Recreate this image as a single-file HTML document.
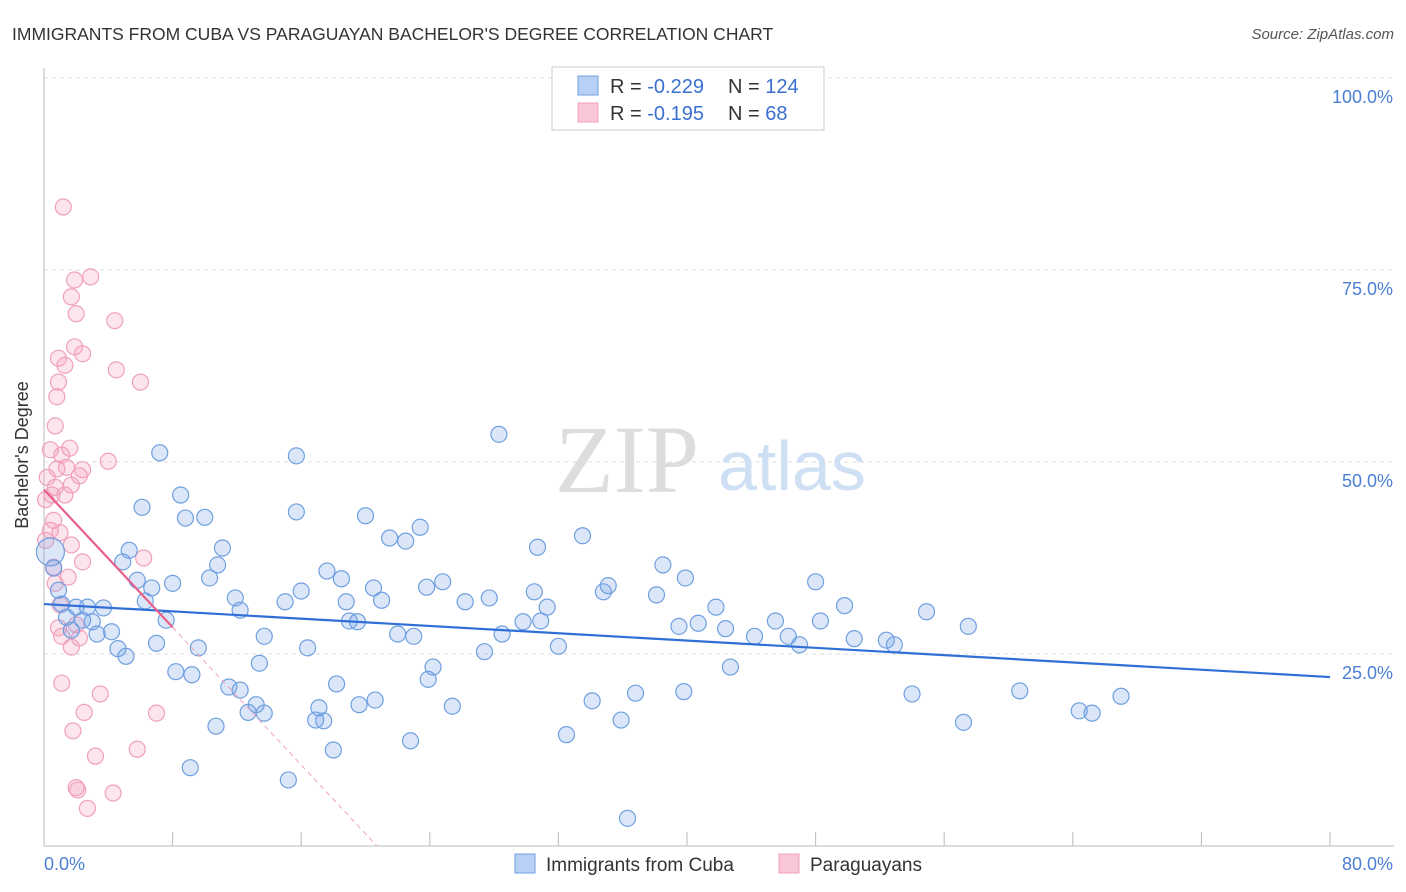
<!DOCTYPE html>
<html><head><meta charset="utf-8">
<style>
body{margin:0;background:#fff;font-family:"Liberation Sans",sans-serif;}
svg{display:block}
</style></head><body>
<svg width="1406" height="892" xmlns="http://www.w3.org/2000/svg">
<text x="12" y="40" font-size="17.5" fill="#333">IMMIGRANTS FROM CUBA VS PARAGUAYAN BACHELOR'S DEGREE CORRELATION CHART</text>
<text x="1394" y="39" font-size="15" fill="#555" font-style="italic" text-anchor="end">Source: ZipAtlas.com</text>
<g id="grid"></g>
<g id="axes"></g>
<text x="555" y="492" font-size="96" fill="#ddd" font-family="Liberation Serif,serif">ZIP</text>
<text x="718" y="490" font-size="70" fill="#cfe0f5">atlas</text>
<g id="pts"></g>
<g id="trend"></g>
<text x="28" y="455" font-size="18" fill="#333" text-anchor="middle" transform="rotate(-90 28 455)">Bachelor's Degree</text>
<g>
<rect x="552" y="67" width="272" height="63" fill="#fff" stroke="#ccc"/>
<rect x="578" y="76" width="20" height="19" fill="#b8d0f5" stroke="#6f9fe0"/>
<rect x="578" y="103" width="20" height="19" fill="#f9c6d5" stroke="#f0a0b8"/>
<text x="610" y="93" font-size="20" fill="#333">R = <tspan fill="#3a70d0">-0.229</tspan><tspan x="728">N = </tspan><tspan fill="#3a70d0">124</tspan></text>
<text x="610" y="120" font-size="20" fill="#333">R = <tspan fill="#3a70d0"> -0.195</tspan><tspan x="728">N = </tspan><tspan fill="#3a70d0"> 68</tspan></text>
</g>
<g>
<rect x="515" y="854" width="20" height="19" fill="#b8d0f5" stroke="#6f9fe0"/>
<text x="546" y="871" font-size="19" fill="#333">Immigrants from Cuba</text>
<rect x="779" y="854" width="20" height="19" fill="#f9c6d5" stroke="#f0a0b8"/>
<text x="810" y="871" font-size="19" fill="#333">Paraguayans</text>
</g>
</svg>
<script>
const yTicks=[25,50,75,100];
const yTickLabels=["25.0%","50.0%","75.0%","100.0%"];
const xTickCount=10;
const xEndLabels=["0.0%","80.0%"];
const cubaX=[7.2,6.1,8.5,8.8,10.0,11.1,10.8,10.3,5.3,4.9,5.8,8.0,6.7,6.3,7.6,4.2,3.3,3.7,2.7,2.0,1.4,2.4,3.0,1.7,0.9,0.6,1.1,4.6,5.1,7.0,9.6,8.2,9.2,11.5,12.2,11.9,12.2,13.7,13.4,13.2,12.7,13.7,10.7,9.1,15.2,15.7,15.7,15.0,16.0,16.4,17.6,18.5,18.8,19.0,19.5,20.0,20.5,21.0,18.2,17.1,16.9,17.4,19.6,20.6,18.0,21.5,22.5,23.4,22.0,23.0,23.8,24.8,24.2,23.9,25.4,22.8,26.2,27.7,28.5,27.4,28.3,29.8,30.5,30.9,31.3,30.7,32.0,33.5,34.8,35.1,34.1,32.5,35.9,36.3,38.1,38.5,39.9,36.8,39.8,39.5,40.7,41.8,42.4,42.7,44.2,45.5,46.3,47.0,48.0,48.3,49.8,50.4,52.4,52.9,54.9,54.0,57.5,57.2,60.7,64.4,65.2,67.0,0.4];
const cubaY=[51.2,44.1,45.7,42.7,42.8,38.8,36.6,34.9,38.5,37.0,34.6,34.2,33.6,31.9,29.4,27.9,27.6,31.0,31.1,31.1,29.8,29.4,29.2,28.1,33.3,36.2,31.5,25.7,24.7,26.4,25.8,22.7,22.3,20.7,20.3,32.3,30.7,27.3,23.8,18.4,17.4,17.3,15.6,10.2,8.6,50.8,43.5,31.8,33.2,25.8,35.8,34.8,31.8,29.3,29.2,43.0,33.6,32.0,21.1,18.0,16.4,16.3,18.4,19.0,12.5,40.1,39.7,41.5,27.6,27.3,33.7,34.4,23.3,21.7,18.2,13.7,31.8,32.3,27.6,25.3,53.6,29.2,33.1,29.3,31.1,38.9,26.0,40.4,33.1,33.9,18.9,14.5,16.4,3.6,32.7,36.6,34.9,19.9,20.1,28.6,29.0,31.1,28.3,23.3,27.3,29.3,27.3,26.2,34.4,29.3,31.3,27.0,26.8,26.2,30.5,19.8,28.6,16.1,20.2,17.6,17.3,19.5,38.3];
const parX=[1.2,1.9,2.9,1.7,2.0,4.4,1.9,2.4,0.9,4.5,1.3,6.0,0.9,0.8,0.7,1.6,0.4,1.1,1.4,2.4,2.2,4.0,0.8,0.2,1.7,0.7,0.5,1.3,0.1,0.6,0.4,1.0,0.1,1.7,6.2,2.4,0.6,1.5,0.7,1.0,2.0,0.9,2.2,1.1,1.7,1.1,3.5,2.5,7.0,1.8,5.8,3.2,2.0,2.1,4.3,2.7];
const parY=[83.2,73.7,74.1,71.5,69.3,68.4,65.0,64.1,63.5,62.0,62.6,60.4,60.4,58.5,54.7,51.8,51.6,50.9,49.3,49.0,48.2,50.1,49.1,48.0,47.0,46.7,45.7,45.7,45.1,42.4,41.1,40.8,39.8,39.2,37.5,37.0,36.3,35.0,34.2,31.4,28.8,28.4,27.1,27.3,25.9,21.2,19.8,17.4,17.3,15.0,12.6,11.7,7.6,7.3,6.9,4.9];
const cubaTrend=[31.5,22.0];
const parTrend=[46.4,-2.24];
const NS="http://www.w3.org/2000/svg";
const X=v=>44+v*16.075, Y=v=>846-v*7.68;
function mk(t,a,p){const e=document.createElementNS(NS,t);for(const k in a)e.setAttribute(k,a[k]);p.appendChild(e);return e;}
const grid=document.getElementById('grid'),axes=document.getElementById('axes'),pts=document.getElementById('pts'),tr=document.getElementById('trend');
yTicks.forEach((v,i)=>{
 const l=mk('line',{x1:44,x2:1394,y1:Y(v),y2:Y(v),stroke:'#ddd','stroke-dasharray':'4 4'},grid);
 
 
 const t=mk('text',{x:1393,y:Y(v)+25,'font-size':18,fill:'#4a7fd4','text-anchor':'end'},axes);
 t.textContent=yTickLabels[i];
 
 
});
const al=mk('line',{x1:44,x2:44,y1:68,y2:846,stroke:'#bbb'},axes);


const bl=mk('line',{x1:44,x2:1394,y1:846,y2:846,stroke:'#bbb'},axes);


for(let i=0;i<=xTickCount;i++){const v=i*80/xTickCount;
 const tk=mk('line',{x1:X(v),x2:X(v),y1:832,y2:846,stroke:'#bbb'},axes);
 
 }
const t0=mk('text',{x:44,y:870,'font-size':18,fill:'#4a7fd4'},axes);t0.textContent=xEndLabels[0];


const t1=mk('text',{x:1393,y:870,'font-size':18,fill:'#4a7fd4','text-anchor':'end'},axes);t1.textContent=xEndLabels[1];


parX.forEach((x,i)=>{const c=mk('circle',{cx:X(x),cy:Y(parY[i]),r:8,fill:'rgba(244,160,188,0.28)',stroke:'#f0a0bc','stroke-width':1.2},pts);
 
 });
cubaX.forEach((x,i)=>{const big=i===cubaX.length-1;const c=mk('circle',{cx:X(x),cy:Y(cubaY[i]),r:big?14:8,fill:'rgba(110,160,230,0.25)',stroke:'#6f9fe0','stroke-width':1.2},pts);
 
 });
const cl=mk('line',{x1:X(0),y1:Y(cubaTrend[0]),x2:X(80),y2:Y(cubaTrend[1]),stroke:'#2f6fd6','stroke-width':2.2},tr);


const pe=8, pz=-parTrend[0]/parTrend[1];
const pl=mk('line',{x1:X(0),y1:Y(parTrend[0]),x2:X(pe),y2:Y(parTrend[0]+parTrend[1]*pe),stroke:'#e8608a','stroke-width':2.2},tr);


const pd=mk('line',{x1:X(pe),y1:Y(parTrend[0]+parTrend[1]*pe),x2:X(pz),y2:Y(0),stroke:'#f0a0bc','stroke-width':1,'stroke-dasharray':'5 4'},tr);


</script>
</body></html>
